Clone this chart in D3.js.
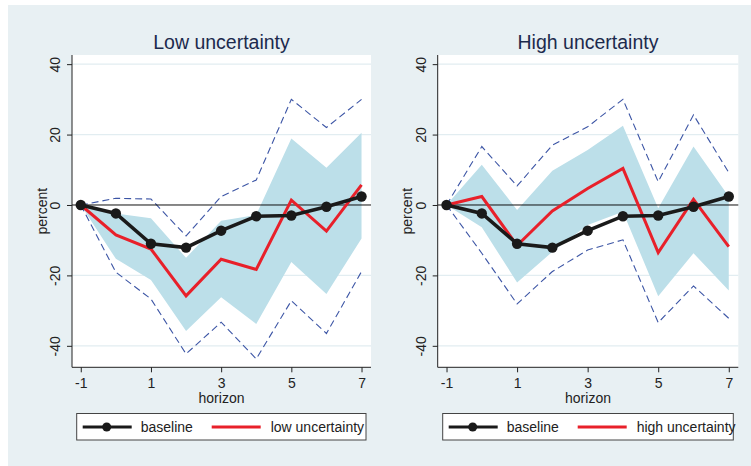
<!DOCTYPE html>
<html>
<head>
<meta charset="utf-8">
<script src="https://cdn.jsdelivr.net/npm/d3@7"></script>
<style>
  body { margin: 0; background: #fff; }
  text { font-family: "Liberation Sans", Arial, sans-serif; }
</style>
</head>
<body>
<script>
// values
var horizon = [-1, 0, 1, 2, 3, 4, 5, 6, 7]
var xTicks = [-1, 1, 3, 5, 7]
var yTicks = [-40, -20, 0, 20, 40]

var baseline = [0, -2.4, -11.0, -12.1, -7.3, -3.2, -3.0, -0.5, 2.4]

var lowUnc = [0, -8.5, -12.5, -25.8, -15.4, -18.3, 1.4, -7.4, 5.7]
var lowBandHi = [0, -2.4, -3.8, -15.0, -4.5, -2.8, 18.9, 10.6, 20.5]
var lowBandLo = [0, -15.3, -21.3, -35.8, -26.2, -33.8, -16.2, -25.3, -9.5]
var lowCiHi = [0, 1.9, 1.7, -8.8, 2.4, 7.1, 30.0, 22.0, 30.0]
var lowCiLo = [0, -19.1, -26.7, -42.3, -33.3, -43.7, -27.2, -36.5, -18.9]

var highUnc = [0, 2.4, -11.5, -1.7, 4.7, 10.4, -13.5, 1.6, -11.8]
var highBandHi = [0, 11.4, -1.4, 9.7, 15.6, 22.5, -0.9, 16.6, 2.4]
var highBandLo = [0, -6.3, -22.0, -13.3, -5.7, -1.9, -25.9, -13.7, -24.3]
var highCiHi = [0, 16.6, 5.4, 17.0, 22.2, 30.0, 6.6, 25.6, 9.2]
var highCiLo = [0, -13.7, -28.1, -18.9, -12.8, -9.9, -33.4, -23.0, -32.2]

var svg = d3.select('body').append('svg')
  .attr('width', 751)
  .attr('height', 466)

svg.append('rect')
  .attr('x', 8).attr('y', 5)
  .attr('width', 743).attr('height', 461)
  .attr('fill', '#e8f0f3')

// plain hyphen for negatives, like the original
var fmt = function(d){ return String(d) }

var drawPanel = function(left, right, title, label, mid, bandHi, bandLo, ciHi, ciLo, leg) {
  var top = 55, bottom = 367.3
  var x = d3.scaleLinear().domain([-1.25, 7.27]).range([left, right])
  var y = d3.scaleLinear().domain([-46.1, 42.6]).range([bottom, top])
  var g = svg.append('g')

  g.append('rect')
    .attr('x', left).attr('y', top)
    .attr('width', right - left).attr('height', bottom - top)
    .attr('fill', '#fff')

  // faint grid
  g.selectAll('line.grid')
    .data(yTicks.filter(function(d){ return d != 0 }))
    .enter().append('line')
    .attr('x1', left).attr('x2', right)
    .attr('y1', function(d){ return y(d) }).attr('y2', function(d){ return y(d) })
    .attr('stroke', '#e2edf1').attr('stroke-width', 1.2)

  var band = d3.area()
    .x(function(d, i){ return x(horizon[i]) })
    .y0(function(d, i){ return y(bandLo[i]) })
    .y1(function(d){ return y(d) })
  g.append('path').datum(bandHi)
    .attr('d', band)
    .attr('fill', '#bcdfe9')

  var line = d3.line()
    .x(function(d, i){ return x(horizon[i]) })
    .y(function(d){ return y(d) })

  ;[ciHi, ciLo].forEach(function(s){
    g.append('path').datum(s)
      .attr('d', line)
      .attr('fill', 'none')
      .attr('stroke', '#3c55a5')
      .attr('stroke-width', 1.1)
      .attr('stroke-dasharray', '7,4')
  })

  g.append('line')
    .attr('x1', left).attr('x2', right)
    .attr('y1', y(0)).attr('y2', y(0))
    .attr('stroke', '#111').attr('stroke-width', 1)

  g.append('path').datum(mid)
    .attr('d', line)
    .attr('fill', 'none')
    .attr('stroke', '#e8202a')
    .attr('stroke-width', 3)

  g.append('path').datum(baseline)
    .attr('d', line)
    .attr('fill', 'none')
    .attr('stroke', '#1a1a1a')
    .attr('stroke-width', 3.5)

  g.selectAll('circle.pt')
    .data(baseline)
    .enter().append('circle')
    .attr('cx', function(d, i){ return x(horizon[i]) })
    .attr('cy', function(d){ return y(d) })
    .attr('r', 5.2)
    .attr('fill', '#1a1a1a')

  // axes
  var yAxis = d3.axisLeft(y).tickValues(yTicks).tickSize(5).tickFormat(fmt)
  var ya = g.append('g').attr('transform', 'translate(' + left + ',0)').call(yAxis)
  ya.select('.domain').attr('d', 'M0,' + top + 'V' + bottom).attr('stroke', '#222')
  ya.selectAll('.tick line').attr('stroke', '#222')
  ya.selectAll('.tick text')
    .attr('x', null).attr('dy', null)
    .attr('transform', 'translate(-12,0) rotate(-90)')
    .attr('text-anchor', 'middle')
    .attr('y', 0)
    .style('font-size', '14px')
    .attr('fill', '#222')

  var xAxis = d3.axisBottom(x).tickValues(xTicks).tickSize(5).tickFormat(fmt)
  var xa = g.append('g').attr('transform', 'translate(0,' + bottom + ')').call(xAxis)
  xa.select('.domain').attr('d', 'M' + left + ',0H' + right).attr('stroke', '#222')
  xa.selectAll('.tick line').attr('stroke', '#222')
  xa.selectAll('.tick text')
    .attr('y', 21).attr('dy', null)
    .style('font-size', '14px')
    .attr('fill', '#222')

  g.append('text')
    .attr('x', (left + right) / 2).attr('y', 403)
    .attr('text-anchor', 'middle')
    .style('font-size', '14px')
    .attr('fill', '#222')
    .text('horizon')

  g.append('text')
    .attr('transform', 'translate(' + (left - 25.5) + ',' + ((top + bottom) / 2) + ') rotate(-90)')
    .attr('text-anchor', 'middle')
    .style('font-size', '14px')
    .attr('fill', '#222')
    .text('percent')

  g.append('text')
    .attr('x', (left + right) / 2).attr('y', 49)
    .attr('text-anchor', 'middle')
    .style('font-size', '19.5px')
    .attr('fill', '#1c2a4d')
    .text(title)

  // legend
  var lg = g.append('g')
  lg.append('rect')
    .attr('x', leg[0]).attr('y', 413.5)
    .attr('width', leg[1] - leg[0]).attr('height', 26.5)
    .attr('fill', '#fff').attr('stroke', '#444').attr('stroke-width', 1)
  lg.append('line')
    .attr('x1', leg[0] + 6).attr('x2', leg[0] + 55)
    .attr('y1', 427).attr('y2', 427)
    .attr('stroke', '#1a1a1a').attr('stroke-width', 3)
  lg.append('circle')
    .attr('cx', leg[0] + 30).attr('cy', 427).attr('r', 4.5)
    .attr('fill', '#1a1a1a')
  lg.append('text')
    .attr('x', leg[0] + 64).attr('y', 432)
    .style('font-size', '14px').attr('fill', '#222')
    .text('baseline')
  lg.append('line')
    .attr('x1', leg[0] + 135).attr('x2', leg[0] + 184)
    .attr('y1', 427).attr('y2', 427)
    .attr('stroke', '#e8202a').attr('stroke-width', 3)
  lg.append('text')
    .attr('x', leg[0] + 194).attr('y', 432)
    .style('font-size', '14px').attr('fill', '#222')
    .text(label)
}

drawPanel(72, 371, 'Low uncertainty', 'low uncertainty',
  lowUnc, lowBandHi, lowBandLo, lowCiHi, lowCiLo, [76.7, 366])
drawPanel(437.7, 738.3, 'High uncertainty', 'high uncertainty',
  highUnc, highBandHi, highBandLo, highCiHi, highCiLo, [442.7, 733.3])
</script>
</body>
</html>
